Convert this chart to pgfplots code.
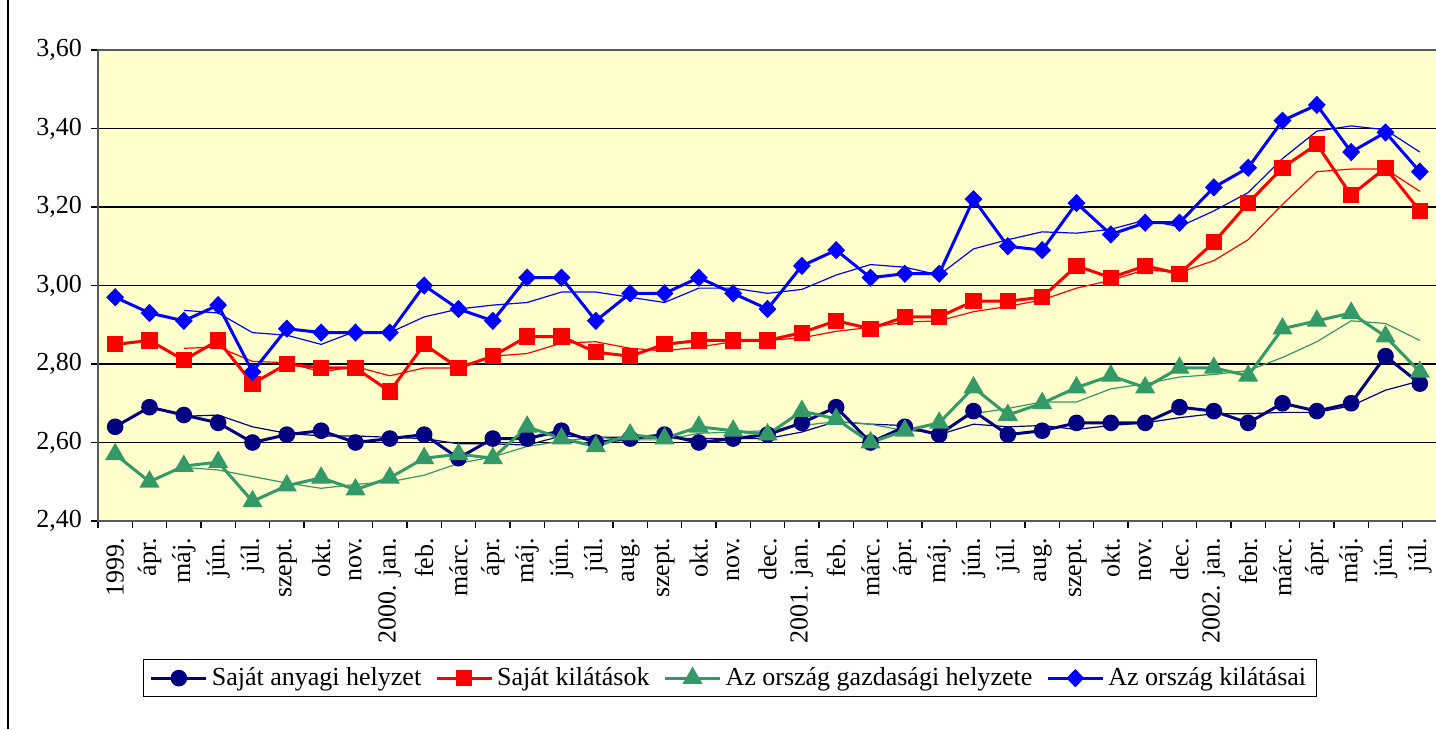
\documentclass[border=0pt]{standalone}
\usepackage{pgfplots}
\usepackage{pgfplotstable}
\usepackage{fontspec}
\setmainfont{Liberation Serif}
\pgfplotsset{compat=1.18}

\definecolor{cnavy}{RGB}{0,0,128}
\definecolor{cred}{RGB}{255,0,0}
\definecolor{cgreen}{RGB}{51,153,102}
\definecolor{cblue}{RGB}{0,0,255}
\definecolor{bgyellow}{RGB}{255,255,204}

% monthly index values
\pgfplotstableread{
x a r g b
0 2.64 2.85 2.57 2.97
1 2.69 2.86 2.50 2.93
2 2.67 2.81 2.54 2.91
3 2.65 2.86 2.55 2.95
4 2.60 2.75 2.45 2.78
5 2.62 2.80 2.49 2.89
6 2.63 2.79 2.51 2.88
7 2.60 2.79 2.48 2.88
8 2.61 2.73 2.51 2.88
9 2.62 2.85 2.56 3.00
10 2.56 2.79 2.57 2.94
11 2.61 2.82 2.56 2.91
12 2.61 2.87 2.64 3.02
13 2.63 2.87 2.61 3.02
14 2.60 2.83 2.59 2.91
15 2.61 2.82 2.62 2.98
16 2.62 2.85 2.61 2.98
17 2.60 2.86 2.64 3.02
18 2.61 2.86 2.63 2.98
19 2.62 2.86 2.62 2.94
20 2.65 2.88 2.68 3.05
21 2.69 2.91 2.66 3.09
22 2.60 2.89 2.60 3.02
23 2.64 2.92 2.63 3.03
24 2.62 2.92 2.65 3.03
25 2.68 2.96 2.74 3.22
26 2.62 2.96 2.67 3.10
27 2.63 2.97 2.70 3.09
28 2.65 3.05 2.74 3.21
29 2.65 3.02 2.77 3.13
30 2.65 3.05 2.74 3.16
31 2.69 3.03 2.79 3.16
32 2.68 3.11 2.79 3.25
33 2.65 3.21 2.77 3.30
34 2.70 3.30 2.89 3.42
35 2.68 3.36 2.91 3.46
36 2.70 3.23 2.93 3.34
37 2.82 3.30 2.87 3.39
38 2.75 3.19 2.78 3.29
}\datatable

% 3-month moving averages (thin lines)
\pgfplotstableread{
x a r g b
2 2.6667 2.8400 2.5367 2.9367
3 2.6700 2.8433 2.5300 2.9300
4 2.6400 2.8067 2.5133 2.8800
5 2.6233 2.8033 2.4967 2.8733
6 2.6167 2.7800 2.4833 2.8500
7 2.6167 2.7933 2.4933 2.8833
8 2.6133 2.7700 2.5000 2.8800
9 2.6100 2.7900 2.5167 2.9200
10 2.5967 2.7900 2.5467 2.9400
11 2.5967 2.8200 2.5633 2.9500
12 2.5933 2.8267 2.5900 2.9567
13 2.6167 2.8533 2.6033 2.9833
14 2.6133 2.8567 2.6133 2.9833
15 2.6133 2.8400 2.6067 2.9700
16 2.6100 2.8333 2.6067 2.9567
17 2.6100 2.8433 2.6233 2.9933
18 2.6100 2.8567 2.6267 2.9933
19 2.6100 2.8600 2.6300 2.9800
20 2.6267 2.8667 2.6433 2.9900
21 2.6533 2.8833 2.6533 3.0267
22 2.6467 2.8933 2.6467 3.0533
23 2.6433 2.9067 2.6300 3.0467
24 2.6200 2.9100 2.6267 3.0267
25 2.6467 2.9333 2.6733 3.0933
26 2.6400 2.9467 2.6867 3.1167
27 2.6433 2.9633 2.7033 3.1367
28 2.6333 2.9933 2.7033 3.1333
29 2.6433 3.0133 2.7367 3.1433
30 2.6500 3.0400 2.7500 3.1667
31 2.6633 3.0333 2.7667 3.1500
32 2.6733 3.0633 2.7733 3.1900
33 2.6733 3.1167 2.7833 3.2367
34 2.6767 3.2067 2.8167 3.3233
35 2.6767 3.2900 2.8567 3.3933
36 2.6933 3.2967 2.9100 3.4067
37 2.7333 3.2967 2.9033 3.3967
38 2.7567 3.2400 2.8600 3.3400
}\matable

\begin{document}
\begin{tikzpicture}
\useasboundingbox (0,0) rectangle (718pt,364.5pt);
\draw[black, line width=1pt] (4pt,0) -- (4pt,364.5pt);
\begin{axis}[
    at={(49pt,104pt)}, anchor=south west,
    scale only axis,
    width=669.5pt, height=235.5pt,
    font=\fontsize{13}{15}\selectfont,
    xmin=-0.5, xmax=38.5,
    ymin=2.4, ymax=3.6,
    ytick={2.4,2.6,...,3.61},
    yticklabel style={/pgf/number format/.cd, fixed, fixed zerofill, precision=2, use comma, assume math mode=true},
    ymajorgrids,
    grid style={black, line width=0.6pt},
    axis background/.style={fill=bgyellow},
    axis line style={draw=gray!70!black, line width=1pt},
    tick align=outside,
    xtick pos=bottom, ytick pos=left,
    tick style={black, line width=0.6pt},
    major tick length=3.5pt,
    xtick={-0.5,0.5,...,38.6},
    xticklabels={},
    extra x ticks={0,1,...,38},
    extra x tick style={major tick length=0pt, grid=none},
    extra x tick labels={1999.,ápr.,máj.,jún.,júl.,szept.,okt.,nov.,2000. jan.,feb.,márc.,ápr.,máj.,jún.,júl.,aug.,szept.,okt.,nov.,dec.,2001. jan.,feb.,márc.,ápr.,máj.,jún.,júl.,aug.,szept.,okt.,nov.,dec.,2002. jan.,febr.,márc.,ápr.,máj.,jún.,júl.},
    xticklabel style={rotate=90, anchor=east},
    xticklabel shift=5pt,
    yticklabel shift=1pt,
    legend image code/.code={\draw[mark repeat=2, mark phase=2] plot coordinates {(0pt,0pt) (13.75pt,0pt) (27.5pt,0pt)};},
    legend style={at={(rel axis cs:0.472,0)}, anchor=north, yshift=-69pt,
        draw=black, line width=0.6pt, legend columns=-1,
        font=\fontsize{13}{15}\selectfont,
        /tikz/every even column/.append style={column sep=5pt}},
    legend cell align=left,
]
% thin moving-average lines
\addplot[cnavy, line width=0.6pt, forget plot] table[x=x, y=a] {\matable};
\addplot[cred, line width=0.6pt, forget plot] table[x=x, y=r] {\matable};
\addplot[cgreen, line width=0.6pt, forget plot] table[x=x, y=g] {\matable};
\addplot[cblue, line width=0.6pt, forget plot] table[x=x, y=b] {\matable};

\addplot[cnavy, line width=1.5pt, mark=*, mark size=3.4pt, mark options={solid, fill=cnavy}] table[x=x, y=a] {\datatable};
\addlegendentry{Saját anyagi helyzet}
\addplot[cred, line width=1.5pt, mark=square*, mark size=3.3pt, mark options={solid, fill=cred}] table[x=x, y=r] {\datatable};
\addlegendentry{Saját kilátások}
\addplot[cgreen, line width=1.5pt, mark=triangle*, mark size=4.3pt, mark options={solid, fill=cgreen}] table[x=x, y=g] {\datatable};
\addlegendentry{Az ország gazdasági helyzete}
\addplot[cblue, line width=1.5pt, mark=diamond*, mark size=3.5pt, mark options={solid, fill=cblue, xscale=1.3}] table[x=x, y=b] {\datatable};
\addlegendentry{Az ország kilátásai}
\end{axis}
\end{tikzpicture}
\end{document}
